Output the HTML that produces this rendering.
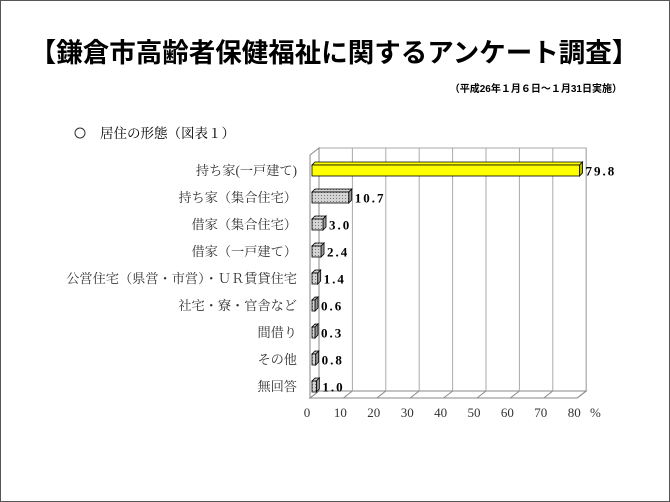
<!DOCTYPE html>
<html><head><meta charset="utf-8">
<style>
html,body{margin:0;padding:0;background:#fff;}
svg{display:block;}
text{font-family:"Liberation Serif","Noto Serif CJK SC","Noto Sans CJK JP",serif;}
.title{font-family:"Liberation Sans","Noto Sans CJK JP",sans-serif;font-weight:bold;}
</style></head>
<body>
<svg id="chart" width="670" height="502" viewBox="0 0 670 502" xmlns="http://www.w3.org/2000/svg">
<rect x="0.5" y="0.5" width="669" height="501" fill="#fff" stroke="#555"/>
<text class="title" x="334" y="62" font-size="26.5" text-anchor="middle">【鎌倉市高齢者保健福祉に関するアンケート調査】</text>
<text class="title" x="622" y="92" font-size="10" text-anchor="end">（平成26年１月６日～１月31日実施）</text>
<circle cx="80" cy="133" r="5" fill="none" stroke="#333" stroke-width="1"/>
<text x="100" y="138" font-size="13.5">居住の形態（図表１）</text>
<g id="plot"></g>
</svg>
<script>
const categories=["持ち家(一戸建て)","持ち家（集合住宅）","借家（集合住宅）","借家（一戸建て）","公営住宅（県営・市営）・ＵＲ賃貸住宅","社宅・寮・官舎など","間借り","その他","無回答"];
const values=[79.8,10.7,3.0,2.4,1.4,0.6,0.3,0.8,1.0];
const valueLabels=["79.8","10.7","3.0","2.4","1.4","0.6","0.3","0.8","1.0"];
const ticks=[0,10,20,30,40,50,60,70,80];

const NS="http://www.w3.org/2000/svg";
const plotG=document.getElementById('plot');
const X0=310,PX=3.34,DX=9,DY=-7;
const plotTop=155,plotBottom=398;
const rowH=(plotBottom-plotTop)/categories.length;
function xs(v){return X0+v*PX;}
function yc(i){return plotTop+rowH*(i+0.5)+2;}
function mk(tag,attrs){const el=document.createElementNS(NS,tag);for(const k in attrs)el.setAttribute(k,attrs[k]);plotG.appendChild(el);return el;}

const defs=document.createElementNS(NS,'defs');
defs.innerHTML='<pattern id="hatch" width="3" height="3" patternUnits="userSpaceOnUse"><rect width="3" height="3" fill="#d4d4d4"/><rect width="1" height="1" fill="#777"/></pattern>';
document.getElementById('chart').insertBefore(defs,plotG);

let el=mk('rect',{x:X0+DX,y:plotTop+DY,width:xs(80)-X0,height:plotBottom-plotTop,fill:'#fff',stroke:'#aaa'});


el=mk('polygon',{points:`${X0},${plotBottom} ${xs(80)},${plotBottom} ${xs(80)+DX},${plotBottom+DY} ${X0+DX},${plotBottom+DY}`,fill:'#fff',stroke:'#888'});


el=mk('polygon',{points:`${X0},${plotTop} ${X0+DX},${plotTop+DY} ${X0+DX},${plotBottom+DY} ${X0},${plotBottom}`,fill:'#fff',stroke:'#888'});


ticks.forEach(t=>{
  const x=xs(t);
  if(t>0){
    let ln=mk('line',{x1:x+DX,y1:plotTop+DY,x2:x+DX,y2:plotBottom+DY,stroke:'#aaa'});
    
    
    ln=mk('line',{x1:x,y1:plotBottom,x2:x+DX,y2:plotBottom+DY,stroke:'#888'});
    
    
  }
  const tx=mk('text',{x:x-3,y:417,'font-size':13,'text-anchor':'middle',fill:'#333'});
  tx.textContent=t;
  
  
});
el=mk('text',{x:590,y:417,'font-size':13,fill:'#333'});el.textContent='%';



categories.forEach((c,i)=>{
  const y=yc(i),h=11,x1=X0+2,x2=xs(values[i])+3;
  const bw=Math.max(x2-x1,3);
  const d=3;
  const fill=i===0?'#ffff00':'url(#hatch)';
  const side=i===0?'#b8b800':'#999';
  let p=mk('polygon',{points:`${x1},${y-h/2} ${x1+d},${y-h/2-d} ${x1+bw+d},${y-h/2-d} ${x1+bw},${y-h/2}`,fill:fill,stroke:'#000','stroke-width':0.8});
  
  
  p=mk('polygon',{points:`${x1+bw},${y-h/2} ${x1+bw+d},${y-h/2-d} ${x1+bw+d},${y+h/2-d} ${x1+bw},${y+h/2}`,fill:side,stroke:'#000','stroke-width':0.8});
  
  
  p=mk('rect',{x:x1,y:y-h/2,width:bw,height:h,fill:fill,stroke:'#000','stroke-width':0.8});
  
  
  p=mk('text',{x:x1+bw+d+3,y:y+5,'font-size':13,'font-weight':'bold','letter-spacing':2});
  p.textContent=valueLabels[i];
  
  
  p=mk('text',{x:297,y:y+4.5,'font-size':13.2,'text-anchor':'end',fill:'#333'});
  p.textContent=c;
  
  
});
</script>
</body></html>
